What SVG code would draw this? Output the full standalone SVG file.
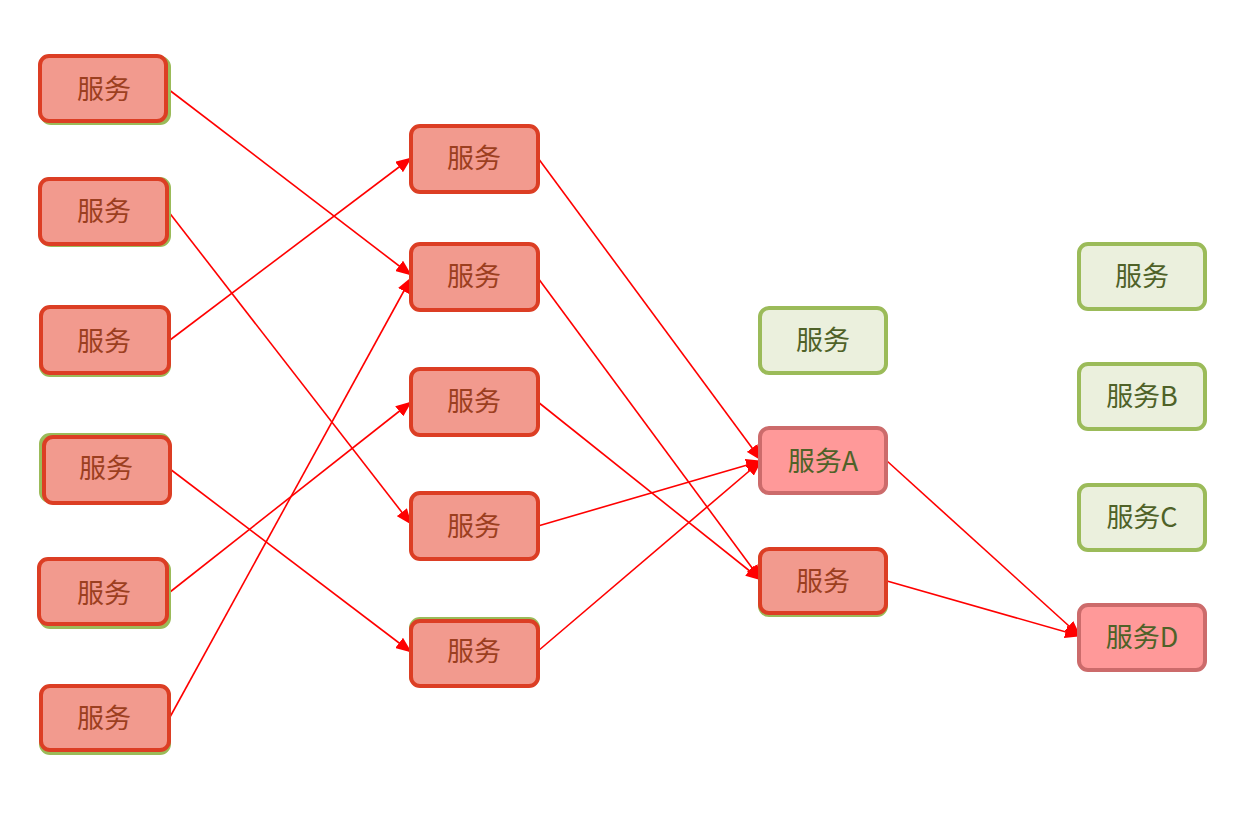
<svg xmlns="http://www.w3.org/2000/svg" width="1242" height="825" viewBox="0 0 1242 825">
<style>
.g{fill:#ebf0dd;stroke:#9bbb59;stroke-width:4}
.r{fill:#f29a8e;stroke:#dc3e24;stroke-width:4}
.p{fill:#ff9999;stroke:#cc6b6b;stroke-width:4}
.t{font-family:"Noto Sans CJK SC","Noto Sans",sans-serif;font-size:27px;text-anchor:middle;dominant-baseline:central}
.tr{fill:#9c3f20}
.tg{fill:#4f6228}
.e{stroke:#ff0000;stroke-width:1.6;fill:none;marker-end:url(#a)}
</style>
<defs>
<marker id="a" markerUnits="userSpaceOnUse" markerWidth="16" markerHeight="13" refX="15" refY="6.5" orient="auto" viewBox="0 0 16 13">
<path d="M0,0 L16,6.5 L0,13 z" fill="#ff0000"/>
</marker>
</defs>
<rect width="1242" height="825" fill="#ffffff"/>
<g id="connectors">
<line class="e" x1="168" y1="89" x2="411" y2="275"/>
<line class="e" x1="168" y1="211" x2="411" y2="524"/>
<line class="e" x1="170" y1="340" x2="411" y2="158"/>
<line class="e" x1="170" y1="469" x2="411" y2="652"/>
<line class="e" x1="170" y1="592" x2="411" y2="402"/>
<line class="e" x1="170" y1="717" x2="411" y2="278"/>
<line class="e" x1="538" y1="158" x2="761" y2="460"/>
<line class="e" x1="538" y1="278" x2="761" y2="580"/>
<line class="e" x1="538" y1="402" x2="761" y2="580"/>
<line class="e" x1="538" y1="526" x2="761" y2="461"/>
<line class="e" x1="538" y1="651" x2="761" y2="461"/>
<line class="e" x1="887" y1="461" x2="1080" y2="636"/>
<line class="e" x1="887" y1="581" x2="1080" y2="636"/>
</g>
<g id="n1"><rect class="g" x="42" y="58" width="127" height="65" rx="9"/><rect class="r" x="40" y="56" width="126" height="65" rx="9"/><text class="t tr" x="104" y="87">服务</text></g>
<g id="n2"><rect class="g" x="42" y="179" width="127" height="66" rx="9"/><rect class="r" x="40" y="179" width="127" height="65" rx="9"/><text class="t tr" x="104" y="209">服务</text></g>
<g id="n3"><rect class="g" x="41" y="309" width="128" height="66" rx="9"/><rect class="r" x="41" y="307" width="128" height="66" rx="9"/><text class="t tr" x="104" y="339">服务</text></g>
<g id="n4"><rect class="g" x="41" y="435" width="128" height="66" rx="9"/><rect class="r" x="44" y="437" width="126" height="66" rx="9"/><text class="t tr" x="106" y="466">服务</text></g>
<g id="n5"><rect class="g" x="41" y="561" width="128" height="66" rx="9"/><rect class="r" x="39" y="559" width="128" height="65" rx="9"/><text class="t tr" x="104" y="591">服务</text></g>
<g id="n6"><rect class="g" x="41" y="688" width="128" height="65" rx="9"/><rect class="r" x="41" y="686" width="128" height="64" rx="9"/><text class="t tr" x="104" y="716">服务</text></g>
<g id="n7"><rect class="r" x="411" y="126" width="127" height="66" rx="9"/><text class="t tr" x="474" y="156">服务</text></g>
<g id="n8"><rect class="r" x="411" y="244" width="127" height="66" rx="9"/><text class="t tr" x="474" y="274">服务</text></g>
<g id="n9"><rect class="r" x="411" y="369" width="127" height="66" rx="9"/><text class="t tr" x="474" y="399">服务</text></g>
<g id="n10"><rect class="r" x="411" y="493" width="127" height="66" rx="9"/><text class="t tr" x="474" y="524">服务</text></g>
<g id="n11"><rect class="g" x="411" y="619" width="127" height="66" rx="9"/><rect class="r" x="411" y="621" width="127" height="65" rx="9"/><text class="t tr" x="474" y="649">服务</text></g>
<g id="n12"><rect class="g" x="760" y="308" width="126" height="65" rx="9"/><text class="t tg" x="823" y="338">服务</text></g>
<g id="nA"><rect class="p" x="760" y="428" width="126" height="65" rx="9"/><text class="t tg" x="823" y="459">服务A</text></g>
<g id="n14"><rect class="g" x="760" y="550" width="126" height="65" rx="9"/><rect class="r" x="760" y="549" width="126" height="64" rx="9"/><text class="t tr" x="823" y="579">服务</text></g>
<g id="n15"><rect class="g" x="1079" y="244" width="126" height="65" rx="9"/><text class="t tg" x="1142" y="274">服务</text></g>
<g id="nB"><rect class="g" x="1079" y="364" width="126" height="65" rx="9"/><text class="t tg" x="1142" y="394">服务B</text></g>
<g id="nC"><rect class="g" x="1079" y="485" width="126" height="65" rx="9"/><text class="t tg" x="1142" y="515">服务C</text></g>
<g id="nD"><rect class="p" x="1079" y="605" width="126" height="65" rx="9"/><text class="t tg" x="1142" y="635">服务D</text></g>
</svg>
